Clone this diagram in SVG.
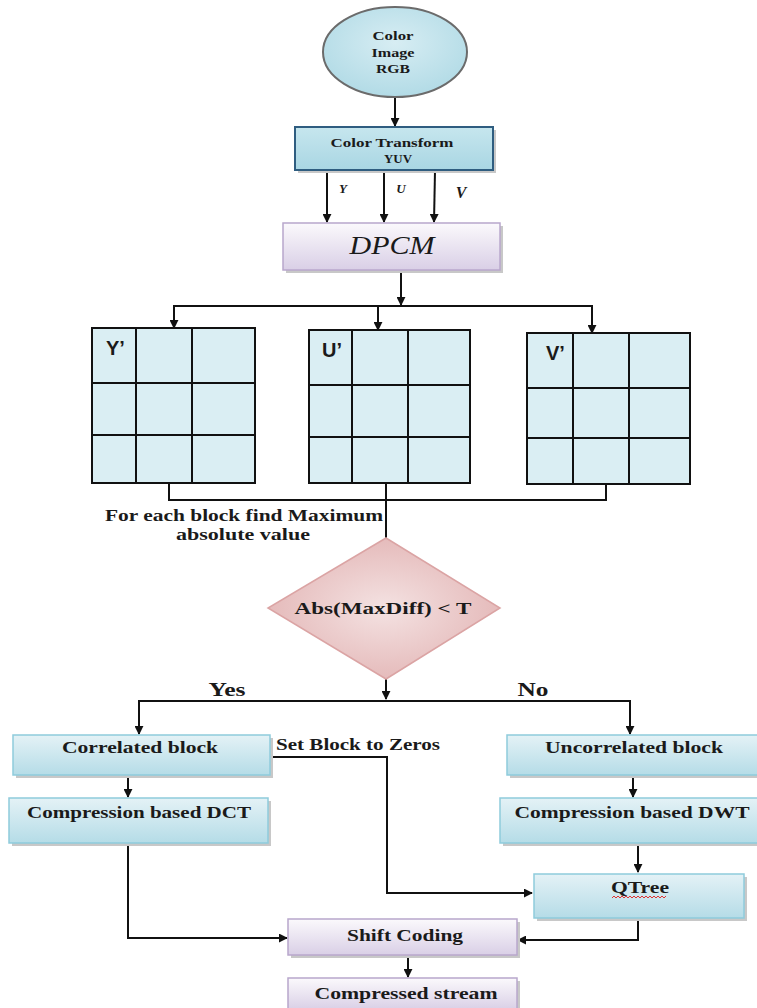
<svg xmlns="http://www.w3.org/2000/svg" width="757" height="1008" viewBox="0 0 757 1008">
<defs>
<linearGradient id="gBlue" x1="0" y1="0" x2="0" y2="1"><stop offset="0" stop-color="#e4f2f6"/><stop offset="1" stop-color="#b5dce7"/></linearGradient>
<linearGradient id="gBlue2" x1="0" y1="0" x2="0" y2="1"><stop offset="0" stop-color="#c6e6ee"/><stop offset="1" stop-color="#a9d6e3"/></linearGradient>
<linearGradient id="gPurple" x1="0" y1="0" x2="0" y2="1"><stop offset="0" stop-color="#fbf9fc"/><stop offset="1" stop-color="#d9cfe6"/></linearGradient>
<radialGradient id="gPink" cx="0.5" cy="0.5" r="0.6"><stop offset="0" stop-color="#f4e2e2"/><stop offset="1" stop-color="#e2b3b3"/></radialGradient>
<radialGradient id="gEll" cx="0.5" cy="0.4" r="0.6"><stop offset="0" stop-color="#d7edf3"/><stop offset="1" stop-color="#b2dbe6"/></radialGradient>
<marker id="ah" viewBox="0 0 10 10" refX="9" refY="5" markerWidth="9" markerHeight="9" markerUnits="userSpaceOnUse" orient="auto"><path d="M0,0 L10,5 L0,10 z" fill="#111"/></marker>
</defs>
<style>
.t{font-family:"Liberation Serif","Times New Roman",serif;font-weight:bold;fill:#1a1a1a;text-anchor:middle}
.s{font-family:"Liberation Sans",Arial,sans-serif;font-weight:bold;fill:#1a1a1a}
.box{fill:url(#gBlue);stroke:#8ecbdc;stroke-width:1.5}
.pbox{fill:url(#gPurple);stroke:#b8a7cc;stroke-width:1.5}
.sh{fill:#c8c8c8}
.grid{fill:#daeef3;stroke:#111;stroke-width:2}
.gl{stroke:#111;stroke-width:2;fill:none}
.c{stroke:#111;stroke-width:2;fill:none}
.ca{stroke:#111;stroke-width:2;fill:none;marker-end:url(#ah)}
</style>
<rect width="757" height="1008" fill="#fff"/>

<g id="connectors">
<line class="ca" x1="395" y1="98" x2="395" y2="126"/>
<line class="ca" x1="327" y1="171" x2="327" y2="222"/>
<line class="ca" x1="384" y1="171" x2="384" y2="222"/>
<line class="ca" x1="435" y1="171" x2="434" y2="222"/>
<line class="ca" x1="401" y1="272" x2="401" y2="305"/>
<polyline class="c" points="174,318 174,306 592,306 592,318"/>
<line class="ca" x1="174" y1="306" x2="174" y2="328"/>
<line class="ca" x1="378" y1="306" x2="378" y2="330"/>
<line class="ca" x1="592" y1="306" x2="592" y2="333"/>
<polyline class="c" points="169,484 169,500 606,500 606,485"/>
<line class="c" x1="386" y1="484" x2="386" y2="538"/>
<line class="ca" x1="386" y1="679" x2="386" y2="699"/>
<polyline class="c" points="139,712 139,701 630,701 630,712"/>
<line class="ca" x1="139" y1="701" x2="139" y2="734"/>
<line class="ca" x1="630" y1="701" x2="630" y2="734"/>
<polyline class="ca" points="271,757 387,757 387,893 532,893"/>
<line class="ca" x1="128" y1="777" x2="128" y2="797"/>
<line class="ca" x1="633" y1="777" x2="633" y2="797"/>
<line class="ca" x1="638" y1="845" x2="638" y2="872"/>
<polyline class="ca" points="128,845 128,938 287,938"/>
<polyline class="ca" points="638,920 638,940 518,940"/>
<line class="ca" x1="408" y1="956" x2="408" y2="977"/>
</g>

<g id="color-image">
<ellipse cx="395" cy="52" rx="72" ry="45" fill="url(#gEll)" stroke="#6b6b6b" stroke-width="2"/>
<text class="t" x="393" y="40" font-size="12" textLength="41" lengthAdjust="spacingAndGlyphs">Color</text>
<text class="t" x="393" y="57" font-size="12" textLength="43" lengthAdjust="spacingAndGlyphs">Image</text>
<text class="t" x="393" y="73" font-size="12" textLength="34" lengthAdjust="spacingAndGlyphs">RGB</text>
</g>

<g id="color-transform">
<rect x="298" y="130" width="198" height="43" class="sh"/>
<rect x="295" y="127" width="198" height="43" fill="url(#gBlue2)" stroke="#2f5d80" stroke-width="2"/>
<text class="t" x="392" y="147" font-size="12" textLength="123" lengthAdjust="spacingAndGlyphs">Color Transform</text>
<text class="t" x="398" y="163" font-size="12" textLength="28" lengthAdjust="spacingAndGlyphs">YUV</text>
</g>
<g id="yuv-labels">
<text class="t" x="343" y="193" font-size="13" font-style="italic">Y</text>
<text class="t" x="401" y="193" font-size="13" font-style="italic">U</text>
<text class="t" x="461" y="198" font-size="16" font-style="italic">V</text>
</g>

<g id="dpcm">
<rect x="286" y="226" width="217" height="47" class="sh"/>
<rect x="283" y="223" width="217" height="47" class="pbox"/>
<text x="392" y="254" font-size="26" font-style="italic" text-anchor="middle" font-family="'Liberation Serif','Times New Roman',serif" fill="#1a1a1a" textLength="85" lengthAdjust="spacingAndGlyphs">DPCM</text>
</g>

<g id="y-block">
<rect x="92" y="328" width="163" height="155" class="grid"/>
<path class="gl" d="M136,328V483M192,328V483M92,383H255M92,435H255"/>
<text class="s" x="106" y="355" font-size="20">Y’</text>
</g>
<g id="u-block">
<rect x="309" y="330" width="161" height="153" class="grid"/>
<path class="gl" d="M352,330V483M408,330V483M309,385H470M309,437H470"/>
<text class="s" x="322" y="357" font-size="20">U’</text>
</g>
<g id="v-block">
<rect x="527" y="333" width="163" height="151" class="grid"/>
<path class="gl" d="M573,333V484M629,333V484M527,388H690M527,438H690"/>
<text class="s" x="546" y="360" font-size="20">V’</text>
</g>

<g id="max-label">
<text class="t" x="244" y="521" font-size="16" textLength="278" lengthAdjust="spacingAndGlyphs">For each block find Maximum</text>
<text class="t" x="243" y="540" font-size="16" textLength="134" lengthAdjust="spacingAndGlyphs">absolute value</text>
</g>

<g id="decision">
<polygon points="386,538 500,608 386,679 268,608" fill="url(#gPink)" stroke="#dba4a4" stroke-width="1.5"/>
<text class="t" x="383" y="614" font-size="16" textLength="177" lengthAdjust="spacingAndGlyphs">Abs(MaxDiff) &lt; T</text>
</g>
<g id="branch-labels">
<text class="t" x="227" y="696" font-size="18" textLength="37" lengthAdjust="spacingAndGlyphs">Yes</text>
<text class="t" x="533" y="696" font-size="18" textLength="31" lengthAdjust="spacingAndGlyphs">No</text>
<text class="t" x="358" y="750" font-size="16" textLength="164" lengthAdjust="spacingAndGlyphs">Set Block to Zeros</text>
</g>

<g id="correlated">
<rect x="16" y="738" width="257" height="40" class="sh"/>
<rect x="13" y="735" width="257" height="40" class="box"/>
<text class="t" x="140" y="753" font-size="16" textLength="156" lengthAdjust="spacingAndGlyphs">Correlated block</text>
</g>
<g id="uncorrelated">
<rect x="510" y="738" width="250" height="40" class="sh"/>
<rect x="507" y="735" width="252" height="40" class="box"/>
<text class="t" x="634" y="753" font-size="16" textLength="178" lengthAdjust="spacingAndGlyphs">Uncorrelated block</text>
</g>
<g id="dct">
<rect x="12" y="801" width="259" height="45" class="sh"/>
<rect x="9" y="798" width="259" height="45" class="box"/>
<text class="t" x="139" y="818" font-size="16" textLength="224" lengthAdjust="spacingAndGlyphs">Compression based DCT</text>
</g>
<g id="dwt">
<rect x="503" y="801" width="257" height="45" class="sh"/>
<rect x="500" y="798" width="259" height="45" class="box"/>
<text class="t" x="632" y="818" font-size="16" textLength="235" lengthAdjust="spacingAndGlyphs">Compression based DWT</text>
</g>
<g id="qtree">
<rect x="537" y="877" width="210" height="44" class="sh"/>
<rect x="534" y="874" width="210" height="44" class="box"/>
<text class="t" x="640" y="893" font-size="16" textLength="58" lengthAdjust="spacingAndGlyphs">QTree</text>
<path d="M612,898 l2,-2 l2,2 l2,-2 l2,2 l2,-2 l2,2 l2,-2 l2,2 l2,-2 l2,2 l2,-2 l2,2 l2,-2 l2,2 l2,-2 l2,2 l2,-2 l2,2 l2,-2 l2,2 l2,-2 l2,2 l2,-2 l2,2 l2,-2 l2,2 l2,-2" fill="none" stroke="#e03030" stroke-width="1"/>
</g>
<g id="shift-coding">
<rect x="291" y="922" width="229" height="36" class="sh"/>
<rect x="288" y="919" width="229" height="36" class="pbox"/>
<text class="t" x="405" y="941" font-size="16" textLength="116" lengthAdjust="spacingAndGlyphs">Shift Coding</text>
</g>
<g id="compressed-stream">
<rect x="291" y="981" width="229" height="32" class="sh"/>
<rect x="288" y="978" width="229" height="32" class="pbox"/>
<text class="t" x="406" y="999" font-size="16" textLength="183" lengthAdjust="spacingAndGlyphs">Compressed stream</text>
</g>
</svg>
